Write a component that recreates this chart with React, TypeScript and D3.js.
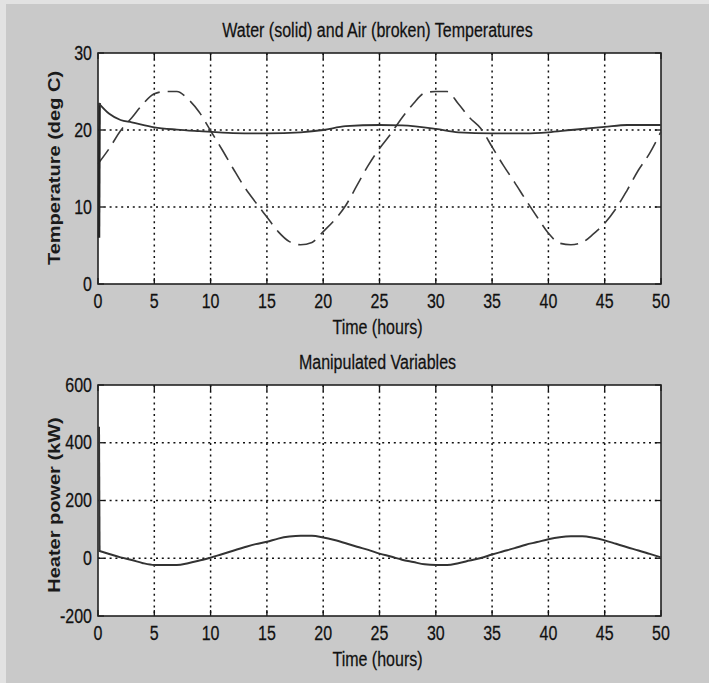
import React from "react";
import * as d3 from "d3";

// ---- Data ----
const hours = [0,1,2,3,4,5,6,7,8,9,10,11,12,13,14,15,16,17,18,19,20,21,22,23,24,25,26,27,28,29,30,31,32,33,34,35,36,37,38,39,40,41,42,43,44,45,46,47,48,49,50];

const airTemp = [15.6,17.6,19.9,21.6,23.4,24.7,25,25,24,22.3,19.9,17.5,15.0,12.6,10.6,8.7,6.8,5.5,5.1,5.4,6.8,8.3,10.2,12.8,15.4,17.6,19.5,21.6,23.4,24.8,25,25,23.4,21.6,20.2,17.8,15.4,13.2,10.9,8.7,6.6,5.3,5.1,5.4,6.5,7.9,9.8,12.2,14.8,17.0,19.8];

const waterTime = [0,0.05,1,2,3,5,7,9,12,15,18,20,22,25,27,30,32,35,38,40,42,45,47,50];
const waterTemp = [6,23.5,22.1,21.3,21.0,20.35,20.05,19.85,19.6,19.55,19.7,20.0,20.5,20.65,20.6,20.15,19.7,19.55,19.55,19.7,20.0,20.4,20.65,20.65];

const heaterTime = [0,0.05,1,2,3,4,5,6,7,8,9,10,11,12,13,14,15,16,17,18,19,20,21,22,23,24,25,26,27,28,29,30,31,32,33,34,35,36,37,38,39,40,41,42,43,44,45,46,47,48,49,50];
const heaterPower = [455,26,15,3,-6,-17,-23,-23,-23,-17,-8,2,14,26,38,49,57,68,75,78,78,72,63,52,40,29,16,6,-5,-13,-21,-23,-23,-17,-8,1,13,24,35,47,56,66,73,76,76,71,62,50,38,27,15,3];

const xTicks = [0,5,10,15,20,25,30,35,40,45,50];
const tempTicks = [0,10,20,30];
const powerTicks = [-200,0,200,400,600];

const title1 = "Water (solid) and Air (broken) Temperatures";
const title2 = "Manipulated Variables";
const xLabel = "Time (hours)";
const yLabel1 = "Temperature (deg C)";
const yLabel2 = "Heater power (kW)";

const W = 709, H = 683;
const X0 = 98, X1 = 661;
const SQ = 0.8; // horizontal squeeze of the reference
const FONT = "'Liberation Sans', Arial, sans-serif";
const FS = 20;

function HText({ x, y, children, anchor = "middle", weight = "normal", baseline = "central" }: any) {
  return (
    <g transform={`translate(${x},${y}) scale(${SQ},1)`}>
      <text textAnchor={anchor} dominantBaseline={baseline} fontFamily={FONT} fontSize={FS} fontWeight={weight} fill="#111" stroke="#111" strokeWidth={0.25}>{children}</text>
    </g>
  );
}

function VText({ x, y, children, weight = "bold" }: any) {
  return (
    <g transform={`translate(${x},${y}) scale(${SQ},1) rotate(-90)`}>
      <text textAnchor="middle" dominantBaseline="central" fontFamily={FONT} fontSize={FS} fontWeight={weight} fill="#1a1a1a">{children}</text>
    </g>
  );
}

function Panel({ yTop, yBot, domain, yTicks, title, yLabel, yLabelY, children }: any) {
  const x = d3.scaleLinear().domain([0, 50]).range([X0, X1]);
  const y = d3.scaleLinear().domain(domain).range([yBot, yTop]);
  const tickLen = 6;
  return (
    <g>
      <rect x={X0} y={yTop} width={X1 - X0} height={yBot - yTop} fill="#fff" />
      {/* grid */}
      {xTicks.slice(1, -1).map((t) => (
        <line key={"gx" + t} x1={x(t)} x2={x(t)} y1={yTop} y2={yBot} stroke="#111" strokeWidth={1.5} strokeDasharray="2,3.8" />
      ))}
      {yTicks.slice(1, -1).map((t: number) => (
        <line key={"gy" + t} x1={X0} x2={X1} y1={y(t)} y2={y(t)} stroke="#111" strokeWidth={1.5} strokeDasharray="2,3.8" />
      ))}
      {/* ticks */}
      {xTicks.map((t) => (
        <g key={"tx" + t}>
          <line x1={x(t)} x2={x(t)} y1={yBot} y2={yBot - tickLen} stroke="#111" strokeWidth={1.3} />
          <line x1={x(t)} x2={x(t)} y1={yTop} y2={yTop + tickLen} stroke="#111" strokeWidth={1.3} />
          <HText x={x(t)} y={yBot + 17}>{t}</HText>
        </g>
      ))}
      {yTicks.map((t: number) => (
        <g key={"ty" + t}>
          <line x1={X0} x2={X0 + tickLen} y1={y(t)} y2={y(t)} stroke="#111" strokeWidth={1.3} />
          <line x1={X1} x2={X1 - tickLen} y1={y(t)} y2={y(t)} stroke="#111" strokeWidth={1.3} />
          <HText x={92} y={y(t)} anchor="end">{t}</HText>
        </g>
      ))}
      <rect x={X0} y={yTop} width={X1 - X0} height={yBot - yTop} fill="none" stroke="#222" strokeWidth={1.6} />
      {children(x, y)}
      <HText x={(X0 + X1) / 2 - 2} y={yTop - 23}>{title}</HText>
      <HText x={(X0 + X1) / 2 - 2} y={yBot + 43}>{xLabel}</HText>
      <VText x={55} y={yLabelY}>{yLabel}</VText>
    </g>
  );
}

export default function App() {
  const airData = hours.map((h, i) => [h, airTemp[i]] as [number, number]);
  const waterData = waterTime.map((h, i) => [h, waterTemp[i]] as [number, number]);
  const heatData = heaterTime.map((h, i) => [h, heaterPower[i]] as [number, number]);
  return (
    <div style={{ position: "fixed", left: 0, top: 0 }}>
      <svg width={W} height={H} style={{ display: "block" }}>
        <rect x={0} y={0} width={W} height={H} fill="#c9c9c9" />
        <rect x={0} y={0} width={W} height={4} fill="#e2e2e2" />
        <rect x={0} y={0} width={6} height={H} fill="#e2e2e2" />
        <Panel yTop={53} yBot={284} domain={[0, 30]} yTicks={tempTicks} title={title1} yLabel={yLabel1} yLabelY={168}>
          {(x: any, y: any) => {
            const line = d3.line<[number, number]>().x((d) => x(d[0]) + 1).y((d) => y(d[1]));
            const smooth = d3.line<[number, number]>().x((d) => x(d[0])).y((d) => y(d[1])).curve(d3.curveMonotoneX);
            return (
              <g>
                <path d={smooth(airData) || ""} fill="none" stroke="#3a3a3a" strokeWidth={1.6} strokeDasharray="18,8" />
                <path d={line(waterData.slice(0, 2)) || ""} fill="none" stroke="#222" strokeWidth={2.5} />
                <path d={smooth(waterData.slice(1)) || ""} fill="none" stroke="#333" strokeWidth={1.8} />
              </g>
            );
          }}
        </Panel>
        <Panel yTop={385} yBot={616} domain={[-200, 600]} yTicks={powerTicks} title={title2} yLabel={yLabel2} yLabelY={505}>
          {(x: any, y: any) => {
            const line = d3.line<[number, number]>().x((d) => x(d[0]) + 1).y((d) => y(d[1]));
            const smooth = d3.line<[number, number]>().x((d) => x(d[0])).y((d) => y(d[1])).curve(d3.curveMonotoneX);
            return (
              <g>
                <path d={line(heatData.slice(0, 2)) || ""} fill="none" stroke="#333" strokeWidth={2} />
                <path d={smooth(heatData.slice(1)) || ""} fill="none" stroke="#333" strokeWidth={2} />
              </g>
            );
          }}
        </Panel>
      </svg>
    </div>
  );
}
